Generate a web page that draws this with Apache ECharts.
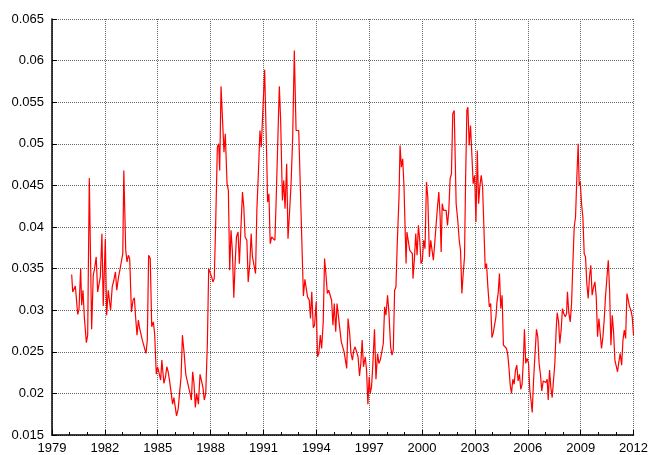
<!DOCTYPE html>
<html><head><meta charset="utf-8">
<script src="https://cdn.jsdelivr.net/npm/echarts@6/dist/echarts.min.js"></script>
<style>html,body{margin:0;padding:0;background:#fff}#c{width:651px;height:455px}</style>
</head><body><div id="c"></div>
<script>
// axis definition
const baseYear = 1979;
const endYear = 2012;
const yearStep = 3;
const yMin = 0.015, yMax = 0.065, yStep = 0.005;
// series: months since Jan 1980 and the value read at that time
const seriesStartYear = 1980;
const months = [
1.4,2.1,3.0,3.9,4.6,5.5,6.4,7.5,8.2,9.1,10.0,11.4,12.3,13.4,15.0,16.1,17.0,18.1,19.1,20.0,
20.9,22.0,22.9,23.6,24.3,25.2,26.3,27.2,27.9,29.0,30.1,31.2,32.1,33.3,34.2,35.1,36.2,36.9,38.2,39.1,
40.0,40.9,42.1,43.2,44.1,45.0,45.9,46.8,47.7,48.6,49.5,50.7,52.0,52.9,53.8,54.9,55.9,57.0,57.9,59.0,
59.9,60.8,62.0,62.8,64.2,65.3,66.2,67.1,68.0,69.2,70.1,71.0,71.9,72.8,73.9,75.0,75.9,76.8,78.0,79.1,
80.0,81.1,82.0,82.9,83.8,84.7,85.6,86.5,87.7,88.8,89.7,90.8,91.7,92.7,93.8,94.7,96.0,96.7,97.6,98.5,
99.4,100.6,101.5,102.2,103.1,104.2,105.1,106.0,107.2,108.1,109.0,109.9,110.8,111.8,112.7,113.6,114.7,115.6,116.8,117.7,
118.6,119.5,120.7,121.6,122.7,123.6,124.5,125.5,126.6,127.5,128.6,129.6,130.5,131.4,132.8,134.4,134.8,135.7,136.6,137.6,
138.7,139.8,140.7,141.9,142.8,143.7,144.9,145.8,146.7,147.8,148.7,149.7,150.8,151.9,153.0,154.2,155.1,156.0,159.2,160.2,
161.1,162.0,163.2,164.0,164.9,165.9,166.8,167.9,168.8,169.7,170.7,171.6,172.7,173.6,174.5,175.5,176.4,177.5,178.4,179.3,
180.2,181.2,182.1,183.0,183.9,185.0,185.9,186.9,187.8,188.7,189.6,190.7,191.6,192.6,193.5,194.4,195.3,196.4,197.4,198.3,
199.2,200.1,201.3,202.2,203.1,204.0,204.7,205.6,206.5,207.6,208.6,209.7,210.6,211.5,212.4,213.6,214.5,215.4,216.5,217.4,
218.6,219.5,220.4,221.3,222.2,223.1,224.3,225.0,225.9,226.8,227.7,229.1,229.7,230.7,231.6,232.5,233.4,233.8,234.8,235.7,
236.6,237.5,238.4,239.3,240.2,241.1,242.0,243.0,243.9,245.0,245.9,246.8,247.7,248.6,249.6,250.5,251.4,252.3,253.0,253.7,
254.6,255.5,256.4,257.3,258.2,259.1,260.0,260.9,261.9,263.2,264.4,265.3,266.2,267.1,268.0,268.9,269.6,270.5,271.2,272.1,
273.0,273.9,274.8,275.8,276.7,277.6,278.5,279.4,280.3,281.2,282.1,283.0,283.9,284.8,285.8,286.7,287.6,288.5,289.4,290.3,
291.0,291.8,292.7,293.6,294.5,295.4,296.3,297.5,298.4,299.3,300.0,300.9,301.8,302.7,303.6,304.5,305.4,306.3,307.2,308.1,
309.0,309.7,310.6,311.5,312.5,313.4,314.3,315.0,315.9,316.8,317.9,318.8,319.7,320.6,321.5,322.5,323.4,324.3,325.2,325.9,
326.8,327.7,328.6,329.5,330.4,331.3,332.0,332.9,333.8,334.7,335.6,336.5,337.5,338.4,339.0,339.9,340.9,341.8,342.7,343.6,
344.5,345.4,346.3,347.0,347.7,348.6,349.5,350.4,351.3,352.2,353.1,354.0,354.9,355.8,356.8,357.7,358.6,359.5,360.4,361.3,
362.2,363.1,364.0,364.9,365.9,366.8,367.7,368.6,369.5,370.4,371.3,372.2,373.1,374.0,374.9,375.9,376.8,377.7,378.6,379.5,
380.4,381.3,382.2,383.1,384.0
];
const rates = [
.0343,.0322,.0320,.0329,.0328,.0295,.0301,.0350,.0306,.0324,.0292,.0261,.0270,.0459,.0277,.0342,.0350,.0364,.0322,.0324,
.0340,.0392,.0305,.0306,.0386,.0294,.0324,.0324,.0300,.0328,.0336,.0346,.0324,.0340,.0348,.0350,.0368,.0468,.0372,.0358,
.0366,.0362,.0298,.0312,.0315,.0290,.0270,.0288,.0278,.0280,.0264,.0264,.0248,.0264,.0366,.0362,.0280,.0286,.0272,.0223,
.0232,.0230,.0216,.0240,.0212,.0220,.0232,.0226,.0216,.0200,.0187,.0195,.0195,.0173,.0181,.0203,.0220,.0270,.0248,.0223,
.0221,.0207,.0200,.0192,.0226,.0212,.0183,.0200,.0187,.0223,.0216,.0207,.0192,.0200,.0260,.0350,.0350,.0340,.0334,.0338,
.0400,.0496,.0500,.0468,.0569,.0571,.0490,.0512,.0452,.0444,.0348,.0396,.0372,.0315,.0356,.0388,.0394,.0356,.0354,.0442,
.0424,.0388,.0384,.0334,.0356,.0392,.0364,.0362,.0344,.0420,.0468,.0516,.0496,.0494,.0589,.0468,.0430,.0440,.0380,.0388,
.0386,.0384,.0436,.0512,.0569,.0528,.0432,.0456,.0422,.0476,.0386,.0416,.0452,.0508,.0612,.0516,.0516,.0516,.0317,.0337,
.0335,.0316,.0312,.0290,.0322,.0279,.0282,.0310,.0244,.0248,.0270,.0254,.0286,.0362,.0344,.0320,.0324,.0324,.0312,.0282,
.0308,.0274,.0308,.0306,.0279,.0262,.0264,.0250,.0252,.0230,.0290,.0272,.0248,.0240,.0252,.0256,.0256,.0244,.0221,.0236,
.0264,.0232,.0244,.0228,.0187,.0220,.0200,.0208,.0236,.0277,.0217,.0248,.0236,.0240,.0248,.0260,.0304,.0294,.0318,.0298,
.0256,.0246,.0252,.0324,.0328,.0380,.0436,.0498,.0472,.0482,.0448,.0356,.0394,.0392,.0372,.0370,.0368,.0338,.0362,.0392,
.0366,.0402,.0384,.0356,.0360,.0384,.0374,.0454,.0436,.0364,.0384,.0384,.0360,.0380,.0404,.0424,.0442,.0412,.0370,.0428,
.0420,.0422,.0420,.0402,.0420,.0458,.0464,.0536,.0540,.0428,.0406,.0384,.0372,.0320,.0344,.0364,.0452,.0540,.0544,.0498,
.0522,.0520,.0452,.0462,.0406,.0492,.0428,.0450,.0462,.0448,.0400,.0350,.0356,.0328,.0304,.0308,.0267,.0273,.0271,.0292,
.0310,.0320,.0344,.0302,.0318,.0258,.0260,.0254,.0246,.0228,.0210,.0200,.0217,.0211,.0228,.0234,.0215,.0223,.0205,.0211,
.0240,.0277,.0236,.0242,.0236,.0203,.0190,.0177,.0215,.0244,.0277,.0268,.0236,.0223,.0203,.0215,.0215,.0213,.0217,.0192,
.0228,.0207,.0195,.0197,.0236,.0276,.0297,.0287,.0260,.0276,.0302,.0296,.0292,.0296,.0322,.0297,.0286,.0308,.0356,.0400,
.0412,.0460,.0500,.0450,.0454,.0428,.0412,.0368,.0364,.0332,.0314,.0340,.0354,.0318,.0328,.0334,.0316,.0268,.0290,.0292,
.0254,.0267,.0288,.0316,.0340,.0360,.0324,.0258,.0294,.0274,.0240,.0240,.0226,.0238,.0248,.0234,.0264,.0276,.0266,.0320,
.0312,.0304,.0300,.0292,.0270
];

const data = months.map((m, i) => [seriesStartYear - baseYear + m / 12, rates[i]]);
const font = 'Liberation Sans, Arial, sans-serif';
const gridLine = { show: true, lineStyle: { color: '#666', type: [1, 1], width: 1 } };

const chart = echarts.init(document.getElementById('c'), null, { renderer: 'canvas' });
chart.setOption({
  animation: false,
  backgroundColor: '#fff',
  grid: { left: 52, right: 17, top: 19, bottom: 20, containLabel: false },
  xAxis: {
    type: 'value', min: 0, max: endYear - baseYear, interval: yearStep,
    axisLine: { show: true, onZero: false, lineStyle: { color: '#000', width: 1.5 } },
    axisTick: { show: true, inside: true, length: 5, lineStyle: { color: '#000', width: 1 } },
    minorTick: { show: true, splitNumber: 3, length: 3, lineStyle: { color: '#000' } },
    axisLabel: { color: '#000', fontFamily: font, fontSize: 13, margin: 7,
      formatter: v => String(baseYear + Math.round(v)) },
    splitLine: gridLine
  },
  yAxis: {
    type: 'value', min: yMin, max: yMax, interval: yStep,
    axisLine: { show: true, onZero: false, lineStyle: { color: '#000', width: 1.5 } },
    axisTick: { show: true, inside: true, length: 5, lineStyle: { color: '#000', width: 1 } },
    axisLabel: { color: '#000', fontFamily: font, fontSize: 13, margin: 8,
      formatter: v => String(parseFloat(v.toFixed(3))) },
    splitLine: gridLine
  },
  series: [{
    type: 'line', data: data, showSymbol: false, symbol: 'none',
    lineStyle: { color: '#ff0000', width: 1.2 }, itemStyle: { color: '#ff0000' }
  }]
});
</script></body></html>
